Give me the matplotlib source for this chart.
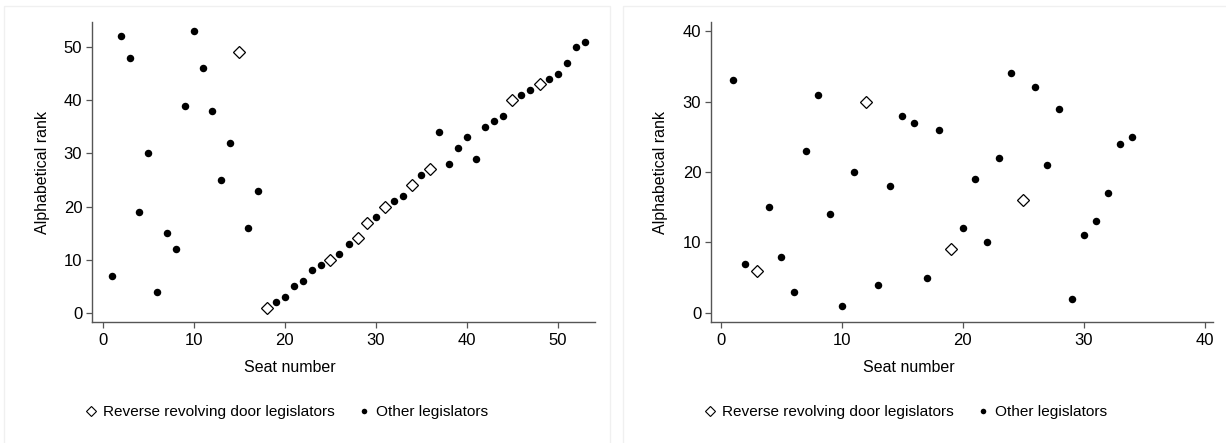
import numpy as np
import matplotlib
matplotlib.use('Agg')
import matplotlib.pyplot as plt
from matplotlib.lines import Line2D
from matplotlib.patches import Rectangle

plt.rcParams['font.family'] = ['Liberation Sans', 'DejaVu Sans']

# ── Data ──────────────────────────────────────────────────────────────────────
left_rank = [7, 52, 48, 19, 30, 4, 15, 12, 39, 53, 46, 38, 25, 32, 49, 16, 23,
             1, 2, 3, 5, 6, 8, 9, 10, 11, 13, 14, 17, 18, 20, 21, 22, 24, 26,
             27, 34, 28, 31, 33, 29, 35, 36, 37, 40, 41, 42, 43, 44, 45, 47,
             50, 51]
left_seat = list(range(1, len(left_rank) + 1))
left_rrd_seats = [15, 18, 25, 28, 29, 31, 34, 36, 45, 48]

right_rank = [33, 7, 6, 15, 8, 3, 23, 31, 14, 1, 20, 30, 4, 18, 28, 27, 5, 26,
              9, 12, 19, 10, 22, 34, 16, 32, 21, 29, 2, 11, 13, 17, 24, 25]
right_seat = list(range(1, len(right_rank) + 1))
right_rrd_seats = [3, 12, 19, 25]

left_xticks = [0, 10, 20, 30, 40, 50]
left_yticks = [0, 10, 20, 30, 40, 50]
right_xticks = [0, 10, 20, 30, 40]
right_yticks = [0, 10, 20, 30, 40]

LABEL_RRD = 'Reverse revolving door legislators'
LABEL_OTHER = 'Other legislators'

W, H = 1226, 443
fig = plt.figure(figsize=(W / 100, H / 100), dpi=100)

# faint panel outlines
for x0, x1 in [(4, 610), (623, 1240)]:
    fig.patches.append(Rectangle((x0 / W, -0.1), (x1 - x0) / W, 1.1 - 6 / H,
                                 transform=fig.transFigure, fill=False,
                                 edgecolor='#f0f0f0', linewidth=1))


def panel(rect, seats, ranks, rrd, xlim, ylim, xticks, yticks, xlab_x, ylab_x, leg_x):
    ax = fig.add_axes(rect)
    seats = np.array(seats)
    ranks = np.array(ranks)
    is_rrd = np.isin(seats, rrd)
    ax.plot(seats[~is_rrd], ranks[~is_rrd], 'o', color='black', ms=5.4, mew=0)
    ax.plot(seats[is_rrd], ranks[is_rrd], 'D', mfc='white', mec='black',
            ms=6.2, mew=0.9)
    ax.set_xlim(*xlim)
    ax.set_ylim(*ylim)
    ax.set_xticks(xticks)
    ax.set_yticks(yticks)
    ax.spines[['top', 'right']].set_visible(False)
    for s in ['left', 'bottom']:
        ax.spines[s].set_color('#555555')
        ax.spines[s].set_linewidth(1.0)
    ax.tick_params(direction='out', length=4, width=0.9, color='#555555',
                   labelsize=12, pad=3)
    ax.tick_params(axis='x', pad=4)
    fig.text(xlab_x / W, 1 - 367 / H, 'Seat number', ha='center', va='center',
             fontsize=11.5)
    fig.text(ylab_x / W, 1 - 172 / H, 'Alphabetical rank', ha='center',
             va='center', rotation=90, fontsize=11.5)
    handles = [
        Line2D([], [], ls='none', marker='D', mfc='white', mec='black', ms=5, mew=0.8),
        Line2D([], [], ls='none', marker='o', color='black', ms=4, mew=0),
    ]
    fig.legend(handles, [LABEL_RRD, LABEL_OTHER], loc='center',
               bbox_to_anchor=(leg_x / W, 1 - 412 / H), ncol=2, frameon=False,
               fontsize=11.1, handlelength=0.7, handletextpad=0.45,
               columnspacing=1.5, borderpad=0)
    return ax


panel([92 / W, 121 / H, 503 / W, 300 / H], left_seat, left_rank,
      left_rrd_seats, (-1.2, 54.1), (-1.7, 54.7), left_xticks, left_yticks,
      290, 43, 287)
panel([711 / W, 121 / H, 502 / W, 300 / H], right_seat, right_rank,
      right_rrd_seats, (-0.83, 40.7), (-1.3, 41.3), right_xticks, right_yticks,
      909, 660, 906)

fig.savefig('out.png', dpi=100)
